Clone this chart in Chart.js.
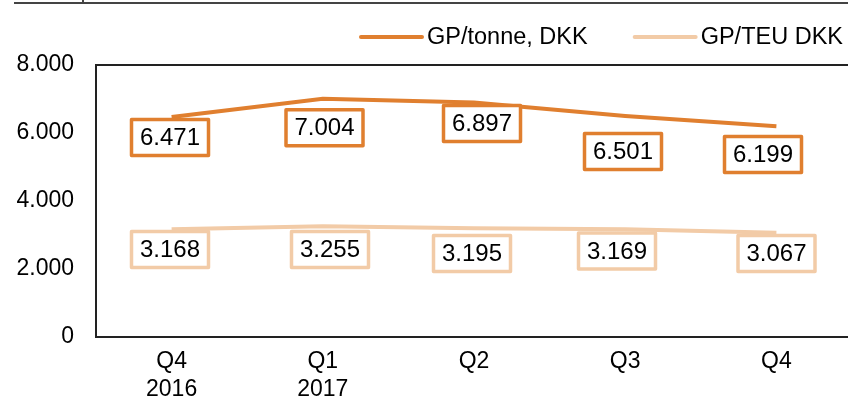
<!DOCTYPE html>
<html>
<head>
<meta charset="utf-8">
<script src="https://cdn.jsdelivr.net/npm/chart.js@4/dist/chart.umd.min.js"></script>
<style>
  html, body { margin: 0; padding: 0; background: #fff; }
  #wrap { width: 848px; height: 401px; overflow: hidden; position: relative; }
  canvas { display: block; }
</style>
</head>
<body>
<div id="wrap"><canvas id="c" width="856" height="401"></canvas></div>
<script>
// ---- data ----
const categories = [["Q4", "2016"], ["Q1", "2017"], "Q2", "Q3", "Q4"];
const seriesNames = ["GP/tonne, DKK", "GP/TEU DKK"];
const gpPerTonne = [6471, 7004, 6897, 6501, 6199];
const gpPerTEU = [3168, 3255, 3195, 3169, 3067];
const yMin = 0;
const yMax = 8000;
const yStep = 2000;

// ---- style ----
const DARK = "#E07F2F";
const LIGHT = "#F2CBA7";
const FONT = "'Liberation Sans', Arial, sans-serif";

function fmt(v) {
  return String(v).replace(/\B(?=(\d{3})+(?!\d))/g, ".");
}

const boxLabels = {
  id: "boxLabels",
  afterDatasetsDraw(chart, args, opts) {
    const ctx = chart.ctx;
    ctx.save();
    chart.data.datasets.forEach((ds, di) => {
      const meta = chart.getDatasetMeta(di);
      meta.data.forEach((pt, i) => {
        const off = opts.offsets[di][i];
        const cx = pt.x + off[0];
        const cy = pt.y + off[1];
        const w = 77, h = 36;
        ctx.fillStyle = "#fff";
        ctx.fillRect(cx - w / 2, cy - h / 2, w, h);
        ctx.lineWidth = 3.5;
        ctx.lineJoin = "round";
        ctx.strokeStyle = ds.borderColor;
        ctx.strokeRect(cx - w / 2, cy - h / 2, w, h);
        ctx.fillStyle = "#000";
        ctx.font = "24px " + FONT;
        ctx.textAlign = "center";
        ctx.textBaseline = "middle";
        ctx.fillText(fmt(ds.data[i]), cx, cy + 1);
      });
    });
    ctx.restore();
  }
};

const frame = {
  id: "frame",
  afterDraw(chart) {
    const ctx = chart.ctx;
    const a = chart.chartArea;
    ctx.save();
    // top border of plot area
    ctx.strokeStyle = "#222";
    ctx.lineWidth = 2;
    ctx.beginPath();
    ctx.moveTo(a.left - 1, a.top);
    ctx.lineTo(chart.width, a.top);
    ctx.stroke();
    // header rule at the very top
    ctx.strokeStyle = "#444";
    ctx.lineWidth = 2;
    ctx.beginPath();
    ctx.moveTo(14, 3);
    ctx.lineTo(chart.width, 3);
    ctx.stroke();
    ctx.beginPath();
    ctx.moveTo(83, 0);
    ctx.lineTo(83, 4);
    ctx.stroke();

    // legend (right-aligned)
    ctx.font = "23.5px " + FONT;
    ctx.textBaseline = "alphabetic";
    ctx.textAlign = "left";
    let x = 843;
    const ds = chart.data.datasets;
    for (let i = ds.length - 1; i >= 0; i--) {
      const label = ds[i].label;
      const tw = ctx.measureText(label).width;
      const ts = x - tw;
      ctx.fillStyle = "#000";
      ctx.fillText(label, ts, 44);
      const le = ts - 5;
      const lsx = le - 61;
      ctx.strokeStyle = ds[i].borderColor;
      ctx.lineWidth = 4;
      ctx.lineCap = "round";
      ctx.beginPath();
      ctx.moveTo(lsx, 37);
      ctx.lineTo(le, 37);
      ctx.stroke();
      x = lsx - 47;
    }
    ctx.restore();
  }
};

new Chart(document.getElementById("c"), {
  type: "line",
  data: {
    labels: categories,
    datasets: [
      { label: seriesNames[0], data: gpPerTonne, borderColor: DARK, backgroundColor: DARK,
        borderWidth: 4, pointRadius: 0, tension: 0, fill: false },
      { label: seriesNames[1], data: gpPerTEU, borderColor: LIGHT, backgroundColor: LIGHT,
        borderWidth: 4, pointRadius: 0, tension: 0, fill: false }
    ]
  },
  options: {
    responsive: false,
    animation: false,
    devicePixelRatio: 1,
    layout: { padding: { top: 65, right: 4, left: 0, bottom: 0 } },
    plugins: {
      legend: { display: false },
      tooltip: { enabled: false },
      boxLabels: {
        offsets: [
          [[-1.6, 20.5], [1.7, 29], [8, 21], [-2.2, 35.5], [-13.4, 28.3]],
          [[-1.6, 20.2], [7.2, 23.2], [-2, 25.1], [-8.2, 21.7], [0.1, 20.8]]
        ]
      }
    },
    scales: {
      x: {
        offset: true,
        grid: { display: false, drawTicks: false },
        border: { display: true, color: "#222", width: 2 },
        afterFit(scale) { scale.height = 64; },
        ticks: {
          color: "#000",
          font: { family: FONT, size: 23, lineHeight: 1.22 },
          padding: 11,
          maxRotation: 0,
          autoSkip: false
        }
      },
      y: {
        min: yMin,
        max: yMax,
        grid: { display: false, drawTicks: false },
        border: { display: true, color: "#222", width: 2 },
        afterFit(scale) { scale.width = 96; },
        ticks: {
          stepSize: yStep,
          color: "#000",
          font: { family: FONT, size: 23 },
          padding: 22,
          callback: (v) => fmt(v)
        }
      }
    }
  },
  plugins: [boxLabels, frame]
});
</script>
</body>
</html>
